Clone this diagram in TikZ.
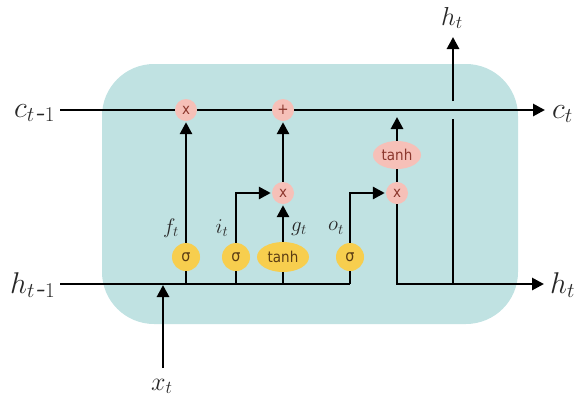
\RequirePackage{fix-cm}
\documentclass[tikz,border=0pt]{standalone}
\usepackage{fontspec}
\newfontfamily\gatefont{DejaVu Sans Condensed}
\usetikzlibrary{arrows.meta,shapes.geometric}
\definecolor{cellbg}{RGB}{192,226,226}
\definecolor{opink}{RGB}{246,192,184}
\definecolor{gyellow}{RGB}{247,206,78}
\definecolor{optext}{RGB}{140,55,45}
\definecolor{gtext}{RGB}{90,60,20}
\definecolor{lbl}{RGB}{40,40,40}
\begin{document}
\begin{tikzpicture}[x=1pt,y=-1pt,
  wire/.style={line width=2.8pt},
  flow/.style={line width=2.8pt,-{Triangle[length=12pt,width=12pt]},shorten >=1pt},
  op/.style={circle,fill=opink,inner sep=0pt,minimum size=22pt,text=optext,font=\gatefont\fontsize{15}{15}\selectfont},
  opw/.style={ellipse,fill=opink,inner sep=0pt,minimum width=48pt,minimum height=28pt,text=optext,font=\gatefont\fontsize{15}{15}\selectfont},
  gate/.style={circle,fill=gyellow,inner sep=0pt,minimum size=28pt,text=gtext,font=\gatefont\fontsize{16}{16}\selectfont},
  gatew/.style={ellipse,fill=gyellow,inner sep=0pt,minimum width=52pt,minimum height=30pt,text=gtext,font=\gatefont\fontsize{15}{15}\selectfont},
  big/.style={font=\fontsize{30}{30}\selectfont,inner sep=0pt,text=lbl,anchor=base west},
  mid/.style={font=\fontsize{26}{26}\selectfont,inner sep=0pt,text=lbl,anchor=base west},
  small/.style={font=\fontsize{21}{21}\selectfont,inner sep=0pt,text=lbl}]
\useasboundingbox (0,0) rectangle (578,400);
\fill[cellbg,rounded corners=52pt] (102,64) rectangle (518,324);

% labels
\node[big] (cin) at (14,117) {$c_{t\textit{-}1}$};
\node[big] (hin) at (10,293) {$h_{t\textit{-}1}$};
\node[big] (cout) at (552,118) {$c_t$};
\node[big] (hout) at (550,293) {$h_t$};
\node[mid] (htop) at (441,25) {$h_t$};
\node[mid] (xt) at (151,390) {$x_t$};
\node[small] (lf) at (171,228) {$f_t$};
\node[small] (li) at (222,228) {$i_t$};
\node[small] (lg) at (299,229) {$g_t$};
\node[small] (lo) at (336,228) {$o_t$};

% coordinates
\coordinate (cs) at (60,110);
\coordinate (ce) at (546,110);
\coordinate (hs) at (60,284);
\coordinate (hj) at (350,284);
\coordinate (xj) at (163,284);
\coordinate (xs) at (163,368);
\coordinate (fj) at (186,284);
\coordinate (ij) at (236,284);
\coordinate (gj) at (283,284);
\coordinate (od) at (397,284);
\coordinate (oj) at (453,284);
\coordinate (he) at (545,284);
\coordinate (cu) at (397,116);
\coordinate (vlo) at (453,119);
\coordinate (vhi) at (453,101);
\coordinate (vt) at (453,36);

% wires (drawn first)
\draw[flow] (cs) -- (ce);
\draw[wire] (hs) -- (hj);
\draw[wire] (fj) -- (186,257);
\draw[wire] (ij) -- (236,257);
\draw[wire] (gj) -- (283,257);
\draw[wire] (hj) -- (350,257);

% ops
\node[op] (mf) at (186,110) {x};
\node[op] (add) at (283,110) {+};
\node[op] (mi) at (283,193) {x};
\node[opw] (tc) at (397,155) {tanh};
\node[op] (mo) at (397,193) {x};

% gates
\node[gate] (sf) at (186,257) {σ};
\node[gate] (si) at (236,257) {σ};
\node[gatew] (tg) at (283,257) {tanh};
\node[gate] (so) at (350,257) {σ};

% connectors
\draw[flow] (sf) -- (mf);
\draw[flow] (si) |- (mi);
\draw[flow] (tg) -- (mi);
\draw[flow] (mi) -- (add);
\draw[flow] (so) |- (mo);
\draw[flow] (tc) -- (cu);
\draw[wire] (tc) -- (mo);
\draw[wire] (mo) -- (od) -- (oj);
\draw[flow] (oj) -- (he);
\draw[wire] (oj) -- (vlo);
\draw[flow] (vhi) -- (vt);
\draw[flow] (xs) -- (xj);
\end{tikzpicture}
\end{document}
